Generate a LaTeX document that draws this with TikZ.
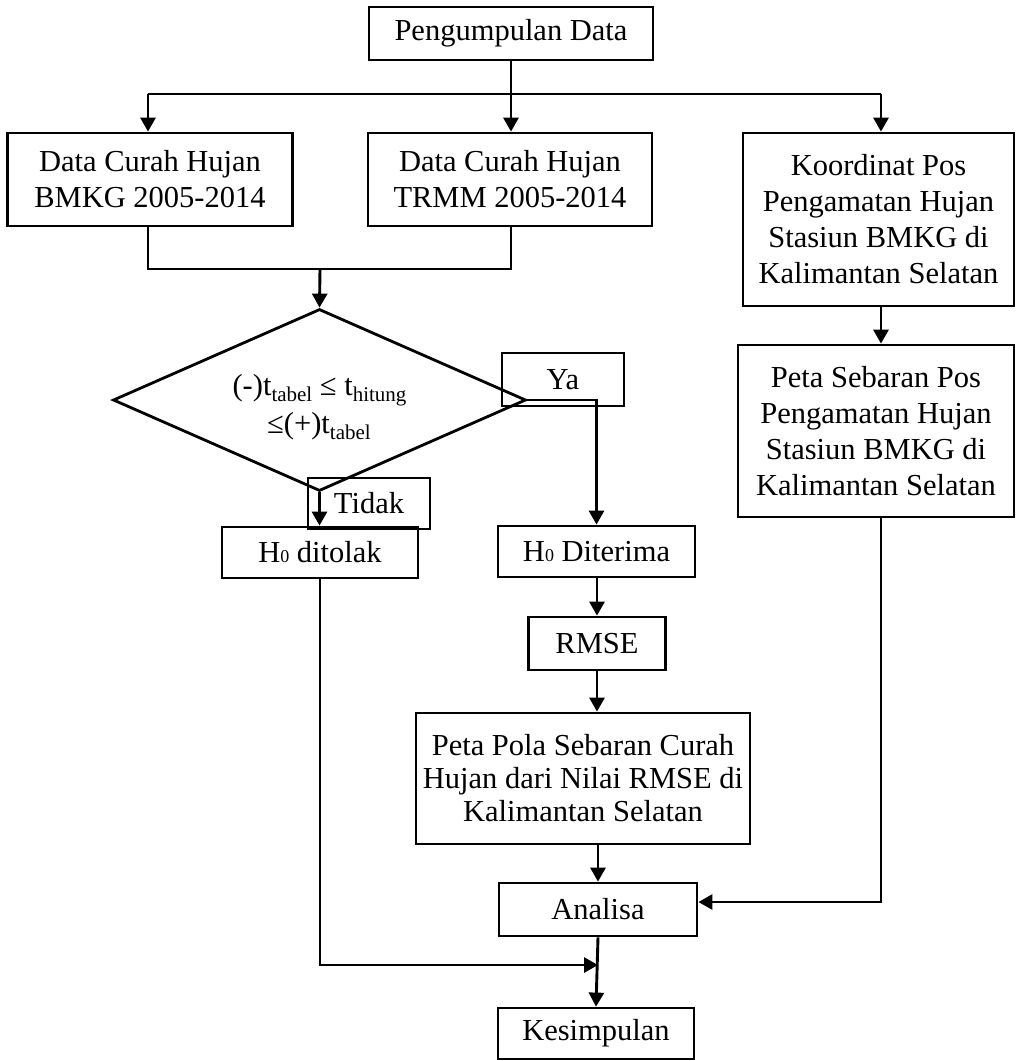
\documentclass[tikz,border=0pt]{standalone}
\usepackage{fontspec}
\setmainfont{Liberation Serif}
\usetikzlibrary{arrows.meta,shapes.geometric,calc}
\newcommand\sbs[1]{\raisebox{-0.22em}{\fontsize{21}{21}\selectfont #1}}
\newcommand\hnol{H{\fontsize{18}{18}\selectfont 0}}
\begin{document}
\begin{tikzpicture}[x=1pt,y=-1pt,
  box/.style={draw, line width=2.8pt, inner sep=0pt, align=center, font=\fontsize{30.5}{36}\selectfont},
  conn/.style={line width=2.9pt},
  arr/.style={conn, -{Triangle[length=14pt,width=15pt]}},
  cond/.style={anchor=base, inner sep=0pt, font=\fontsize{30.5}{38}\selectfont}]
\useasboundingbox (0,0) rectangle (1016,1061);

\node[box, minimum width=284pt, minimum height=53pt] (peng) at (511,33.5) {Pengumpulan Data};
\node[box, minimum width=285pt, minimum height=93pt] (bmkg) at (150,179.5) {Data Curah Hujan\\BMKG 2005-2014};
\node[box, minimum width=284pt, minimum height=93pt] (trmm) at (510,179.5) {Data Curah Hujan\\TRMM 2005-2014};
\node[box, minimum width=271pt, minimum height=173pt] (koord) at (878.5,219.5) {Koordinat Pos\\Pengamatan Hujan\\Stasiun BMKG di\\Kalimantan Selatan};
\node[box, minimum width=276pt, minimum height=172pt] (sebar) at (876,431) {Peta Sebaran Pos\\Pengamatan Hujan\\Stasiun BMKG di\\Kalimantan Selatan};

\node[draw, line width=2.8pt, shape=diamond, inner sep=0pt, minimum width=413pt, minimum height=182pt] (dec) at (319.5,400) {};
\node[cond] (c1) at (319.5,395) {(-)t\sbs{tabel} ≤ t\sbs{hitung}};
\node[cond] (c2) at (319,433) {≤(+)t\sbs{tabel}};

\node[box, minimum width=122pt, minimum height=53pt] (ya) at (563,379.5) {Ya};
\node[box, minimum width=122pt, minimum height=51pt] (tidak) at (369,503.5) {Tidak};
\node[box, minimum width=196pt, minimum height=51pt] (tolak) at (320,552.5) {\hnol{} ditolak};
\node[box, minimum width=197pt, minimum height=51pt] (dit) at (596.5,551.5) {\hnol{} Diterima};
\node[box, minimum width=137pt, minimum height=53pt] (rmse) at (597,643.5) {RMSE};
\node[box, minimum width=334pt, minimum height=131pt, font=\fontsize{30.5}{33}\selectfont] (pola) at (583,778.5) {Peta Pola Sebaran Curah\\Hujan dari Nilai RMSE di\\Kalimantan Selatan};
\node[box, minimum width=198pt, minimum height=53pt] (ana) at (598,909.5) {Analisa};
\node[box, minimum width=196pt, minimum height=51pt] (kes) at (596,1033.5) {Kesimpulan};

\coordinate (hl) at (148,94);
\coordinate (hr) at (881,94);
\coordinate (jb) at (320,269);
\coordinate (ar) at (881,902);
\coordinate (lb) at (320,965);

\draw[conn] (peng.south) -- (peng.south |- hl);
\draw[conn] (hl) -- (hr);
\draw[arr] (hl) -- (hl |- bmkg.north);
\draw[arr] (peng.south |- hl) -- (peng.south |- trmm.north);
\draw[arr] (hr) -- (hr |- koord.north);
\draw[arr] (hr |- koord.south) -- (hr |- sebar.north);
\draw[conn] (hl |- bmkg.south) |- (jb) -| (peng.south |- trmm.south);
\draw[arr] (jb) -- (dec.north);
\draw[arr] (dec.east) -| (dit.north);
\draw[arr] (dec.south) -- (dec.south |- tolak.north);
\draw[arr] (rmse.north |- dit.south) -- (rmse.north);
\draw[arr] (rmse.south) -- (rmse.south |- pola.north);
\draw[arr] (ana.north |- pola.south) -- (ana.north);
\draw[arr] (hr |- sebar.south) |- (ana.east |- ar);
\draw[arr] (ana.south) -- (kes.north);
\draw[arr] (tolak.south) |- (lb -| ana.south);
\end{tikzpicture}
\end{document}
